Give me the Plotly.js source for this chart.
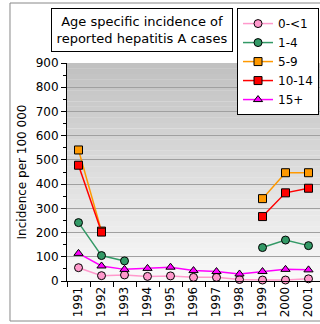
<!DOCTYPE html>
<html>
<head>
<meta charset="utf-8">
<script src="https://cdn.plot.ly/plotly-3.0.1.min.js"></script>
<style>html,body{margin:0;padding:0;background:#fff;}#chart{width:320px;height:324px;}</style>
</head>
<body>
<div id="chart"></div>
<script>
const years = ["1991","1992","1993","1994","1995","1996","1997","1998","1999","2000","2001"];
const age0to1 = [55, 22, 25, 19, 21, 15, 15, 6, 4, 4, 9];
const age1to4 = [241, 105, 83, null, null, null, null, null, 138, 169, 146];
const age5to9 = [541, 206, null, null, null, null, null, null, 340, 447, 447];
const age10to14 = [478, 202, null, null, null, null, null, null, 266, 364, 383];
const age15plus = [114, 62, 48, 52, 57, 43, 39, 29, 39, 48, 46];
const seriesNames = ["0-<1", "1-4", "5-9", "10-14", "15+"];
const yTicks = [0, 100, 200, 300, 400, 500, 600, 700, 800, 900];

const FONT = "DejaVu Sans, Verdana, sans-serif";
const styles = [
  {line: "#ff99cc", fill: "#ff99cc", symbol: "circle"},
  {line: "#339966", fill: "#339966", symbol: "circle"},
  {line: "#ff9900", fill: "#ff9900", symbol: "square"},
  {line: "#ff0000", fill: "#ff0000", symbol: "square"},
  {line: "#ff00ff", fill: "#ff00ff", symbol: "triangle-up"}
];
const seriesData = [age0to1, age1to4, age5to9, age10to14, age15plus];

const traces = seriesData.map((vals, i) => ({
  type: "scatter",
  mode: "lines+markers",
  name: seriesNames[i],
  x: years,
  y: vals,
  connectgaps: false,
  cliponaxis: false,
  line: {color: styles[i].line, width: 1.5},
  marker: {symbol: styles[i].symbol, size: 8, color: styles[i].fill, line: {color: "#000", width: 1}}
}));

// gradient background bands (styling only)
const shapes = [];
const nBands = 40;
const gradTop = [192, 192, 192], gradBot = [250, 250, 250];
for (let k = 0; k < nBands; k++) {
  const t = (k + 0.5) / nBands;
  const c = gradTop.map((v, j) => Math.round(v + (gradBot[j] - v) * t));
  shapes.push({type: "rect", xref: "paper", yref: "paper", x0: 0, x1: 1,
    y1: 1 - k / nBands, y0: 1 - (k + 1) / nBands - 0.001,
    fillcolor: "rgb(" + c.join(",") + ")", line: {width: 0}, layer: "below"});
}
// outer chart frame
shapes.push({type: "line", xref: "paper", yref: "paper", x0: -0.2253, x1: -0.2253, y0: -0.1835, y1: 1.2752, line: {color: "#888", width: 1}});
shapes.push({type: "line", xref: "paper", yref: "paper", x0: -0.2253, x1: 1.02, y0: 1.2752, y1: 1.2752, line: {color: "#888", width: 1}});
shapes.push({type: "line", xref: "paper", yref: "paper", x0: -0.2253, x1: 1.02, y0: -0.1835, y1: -0.1835, line: {color: "#888", width: 1}});

const layout = {
  width: 320, height: 324,
  margin: {l: 67, r: 0, t: 63, b: 43},
  paper_bgcolor: "#fff",
  plot_bgcolor: "rgba(0,0,0,0)",
  font: {family: FONT, size: 12, color: "#000"},
  showlegend: true,
  legend: {x: 0.672, y: 1.252, xanchor: "left", yanchor: "top", bgcolor: "#fff",
    bordercolor: "#000", borderwidth: 1, font: {family: FONT, size: 12}, tracegroupgap: 0, itemwidth: 30},
  xaxis: {type: "category", range: [-0.5, 10.5], tickangle: -90, tickson: "boundaries",
    ticks: "outside", ticklen: 5, tickcolor: "#000", showline: true, linecolor: "#000",
    showgrid: false, tickfont: {family: FONT, size: 12}, fixedrange: true},
  yaxis: {range: [0, 900], tickvals: yTicks, ticktext: yTicks.map(String), ticks: "outside", ticklen: 5, tickcolor: "#000",
    showline: true, linecolor: "#000", showgrid: true, gridcolor: "#a0a0a0", gridwidth: 1,
    zeroline: false, tickfont: {family: FONT, size: 12},
    minor: {dtick: 50, ticks: "outside", ticklen: 3, tickcolor: "#000", showgrid: false},
    title: {text: "Incidence per 100 000", font: {family: FONT, size: 12}, standoff: 6}},
  shapes: shapes,
  annotations: [{
    xref: "paper", yref: "paper", x: 0.296, y: 1.151, xanchor: "center", yanchor: "middle",
    text: "Age specific incidence of<br>reported hepatitis A cases", showarrow: false,
    font: {family: FONT, size: 13}, bgcolor: "#fff", bordercolor: "#000", borderwidth: 1,
    width: 178, height: 40, borderpad: 1, align: "center"
  }]
};

Plotly.newPlot("chart", traces, layout, {displayModeBar: false, staticPlot: true});
</script>
</body>
</html>
